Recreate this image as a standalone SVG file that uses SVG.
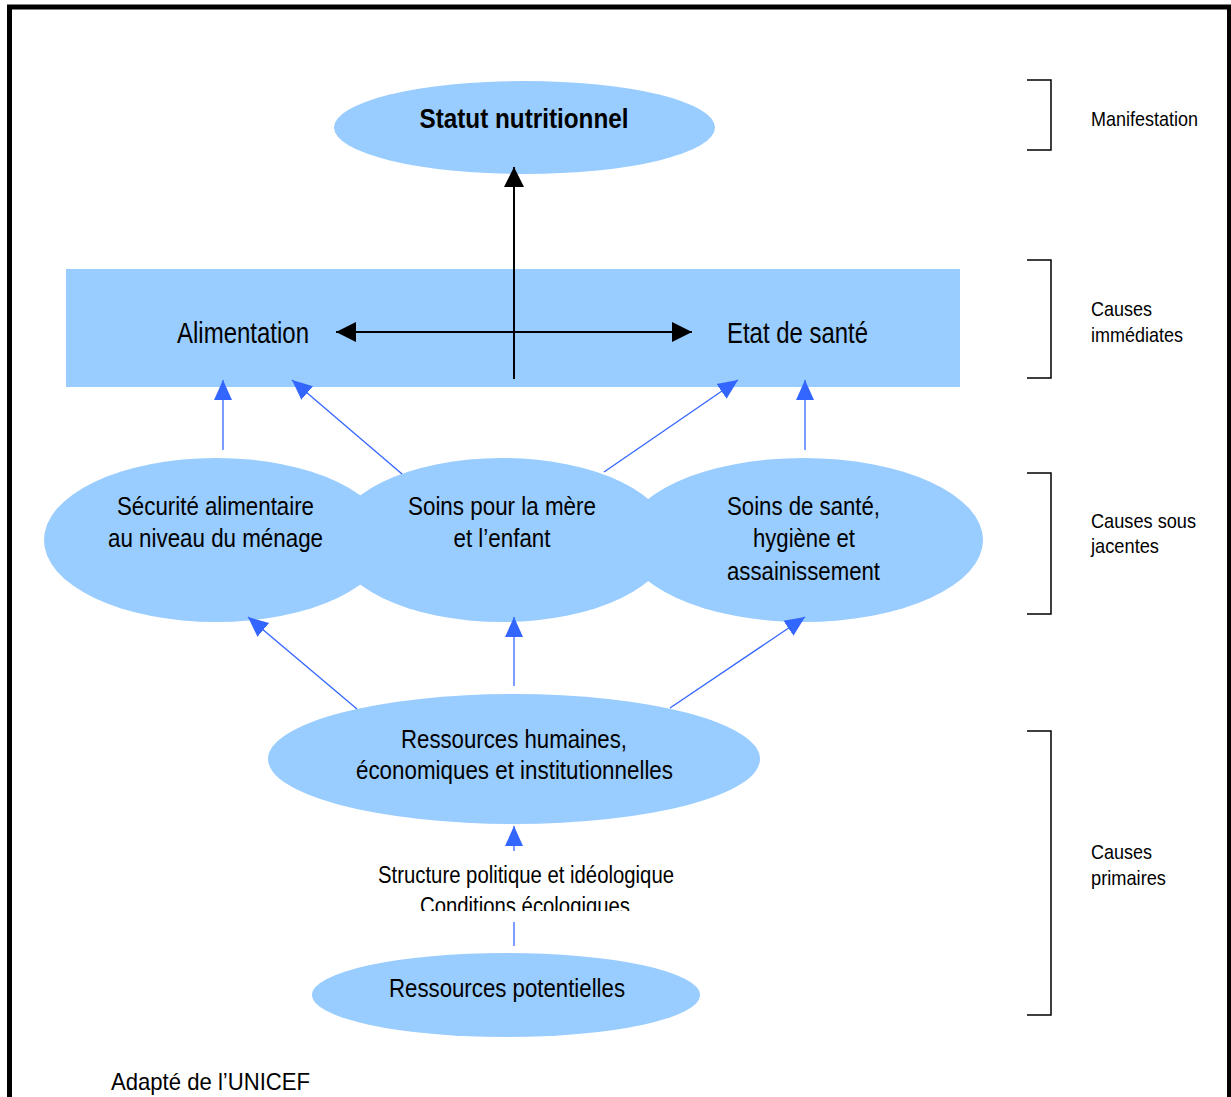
<svg xmlns="http://www.w3.org/2000/svg" width="1231" height="1097" viewBox="0 0 1231 1097">
<style>
text{font-family:"Liberation Sans Narrow","Liberation Sans",Arial,sans-serif;fill:#000;}
.node{fill:#99CCFF;}
.lbl{font-size:25.5px;text-anchor:middle;}
.side{font-size:21px;}
.blk{stroke:#000;stroke-width:2;fill:none;}
.blu{stroke:#3366FF;stroke-width:1.3;fill:none;marker-end:url(#ab);}
.br{stroke:#000;stroke-width:1.5;fill:none;}
</style>
<defs>
<marker id="ak" markerUnits="userSpaceOnUse" markerWidth="22" markerHeight="20" refX="20" refY="10" orient="auto-start-reverse" viewBox="0 0 22 20">
<path d="M0,0 L20,10 L0,20 Z" fill="#000"/>
</marker>
<marker id="ab" markerUnits="userSpaceOnUse" markerWidth="22" markerHeight="20" refX="20" refY="9" orient="auto" viewBox="0 0 22 18">
<path d="M0,0 L20,9 L0,18 Z" fill="#3366FF"/>
</marker>
<clipPath id="clipcond"><rect x="300" y="880" width="400" height="31"/></clipPath>
</defs>
<rect x="0" y="0" width="1231" height="1097" fill="#fff"/>
<path d="M9.5,1100 V7 H1229.5 V1100" fill="none" stroke="#000" stroke-width="5"/>

<g id="statut">
<ellipse class="node" cx="524.5" cy="127.5" rx="190.5" ry="46.5"/>
<text x="524" y="128" font-size="28" font-weight="bold" text-anchor="middle" textLength="209" lengthAdjust="spacingAndGlyphs">Statut nutritionnel</text>
</g>

<g id="causes-immediates">
<rect class="node" x="66" y="269" width="894" height="118"/>
<text x="177" y="343" font-size="30" textLength="132" lengthAdjust="spacingAndGlyphs">Alimentation</text>
<text x="727" y="343" font-size="30" textLength="141" lengthAdjust="spacingAndGlyphs">Etat de santé</text>
</g>

<g id="securite">
<ellipse class="node" cx="216" cy="540" rx="172" ry="82"/>
<text class="lbl" x="215.5" y="515" textLength="197" lengthAdjust="spacingAndGlyphs">Sécurité alimentaire</text>
<text class="lbl" x="215.5" y="547" textLength="215" lengthAdjust="spacingAndGlyphs">au niveau du ménage</text>
</g>
<g id="soins-mere">
<ellipse class="node" cx="502" cy="540" rx="169" ry="82"/>
<text class="lbl" x="502" y="515" textLength="188" lengthAdjust="spacingAndGlyphs">Soins pour la mère</text>
<text class="lbl" x="502" y="547" textLength="97" lengthAdjust="spacingAndGlyphs">et l’enfant</text>
</g>
<g id="soins-sante">
<ellipse class="node" cx="803.5" cy="540" rx="179.5" ry="82"/>
<text class="lbl" x="803.5" y="515" textLength="153" lengthAdjust="spacingAndGlyphs">Soins de santé,</text>
<text class="lbl" x="804" y="547" textLength="102" lengthAdjust="spacingAndGlyphs">hygiène et</text>
<text class="lbl" x="803.5" y="580" textLength="153" lengthAdjust="spacingAndGlyphs">assainissement</text>
</g>

<g id="ressources-humaines">
<ellipse class="node" cx="514" cy="759" rx="246" ry="65"/>
<text class="lbl" x="514" y="748" textLength="226" lengthAdjust="spacingAndGlyphs">Ressources humaines,</text>
<text class="lbl" x="514.5" y="779" textLength="317" lengthAdjust="spacingAndGlyphs">économiques et institutionnelles</text>
</g>

<g id="structure">
<text x="526" y="883" font-size="23" text-anchor="middle" textLength="296" lengthAdjust="spacingAndGlyphs">Structure politique et idéologique</text>
<text x="525" y="914" font-size="23" text-anchor="middle" textLength="210" lengthAdjust="spacingAndGlyphs" clip-path="url(#clipcond)">Conditions écologiques</text>
</g>

<g id="ressources-potentielles">
<ellipse class="node" cx="506" cy="995" rx="194" ry="42"/>
<text class="lbl" x="507" y="997" textLength="236" lengthAdjust="spacingAndGlyphs">Ressources potentielles</text>
</g>

<g id="connectors">
<line class="blk" x1="514" y1="379" x2="514" y2="167" marker-end="url(#ak)"/>
<line class="blk" x1="336" y1="332" x2="692" y2="332" marker-start="url(#ak)" marker-end="url(#ak)"/>
<line class="blu" x1="223" y1="450" x2="223" y2="380"/>
<line class="blu" x1="402" y1="474" x2="292" y2="380"/>
<line class="blu" x1="604" y1="472" x2="738" y2="380"/>
<line class="blu" x1="805" y1="450" x2="805" y2="380"/>
<line class="blu" x1="357" y1="709" x2="248" y2="617"/>
<line class="blu" x1="514" y1="686" x2="514" y2="617"/>
<line class="blu" x1="670" y1="708" x2="805" y2="617"/>
<line class="blu" x1="514" y1="851" x2="514" y2="826"/>
<line x1="514" y1="922" x2="514" y2="946" stroke="#3366FF" stroke-width="1.3"/>
</g>

<g id="brackets">
<path class="br" d="M1027,80 H1051 V150 H1027"/>
<path class="br" d="M1027,260 H1051 V378 H1027"/>
<path class="br" d="M1027,473 H1051 V614 H1027"/>
<path class="br" d="M1027,731 H1051 V1015 H1027"/>
</g>

<g id="levels">
<text class="side" x="1091" y="126" textLength="107" lengthAdjust="spacingAndGlyphs">Manifestation</text>
<text class="side" x="1091" y="316" textLength="61" lengthAdjust="spacingAndGlyphs">Causes</text>
<text class="side" x="1091" y="342" textLength="92" lengthAdjust="spacingAndGlyphs">immédiates</text>
<text class="side" x="1091" y="528" textLength="105" lengthAdjust="spacingAndGlyphs">Causes sous</text>
<text class="side" x="1091" y="553" textLength="68" lengthAdjust="spacingAndGlyphs">jacentes</text>
<text class="side" x="1091" y="859" textLength="61" lengthAdjust="spacingAndGlyphs">Causes</text>
<text class="side" x="1091" y="885" textLength="75" lengthAdjust="spacingAndGlyphs">primaires</text>
</g>

<text x="111" y="1090" font-size="24" textLength="199" lengthAdjust="spacingAndGlyphs">Adapté de l’UNICEF</text>
</svg>
